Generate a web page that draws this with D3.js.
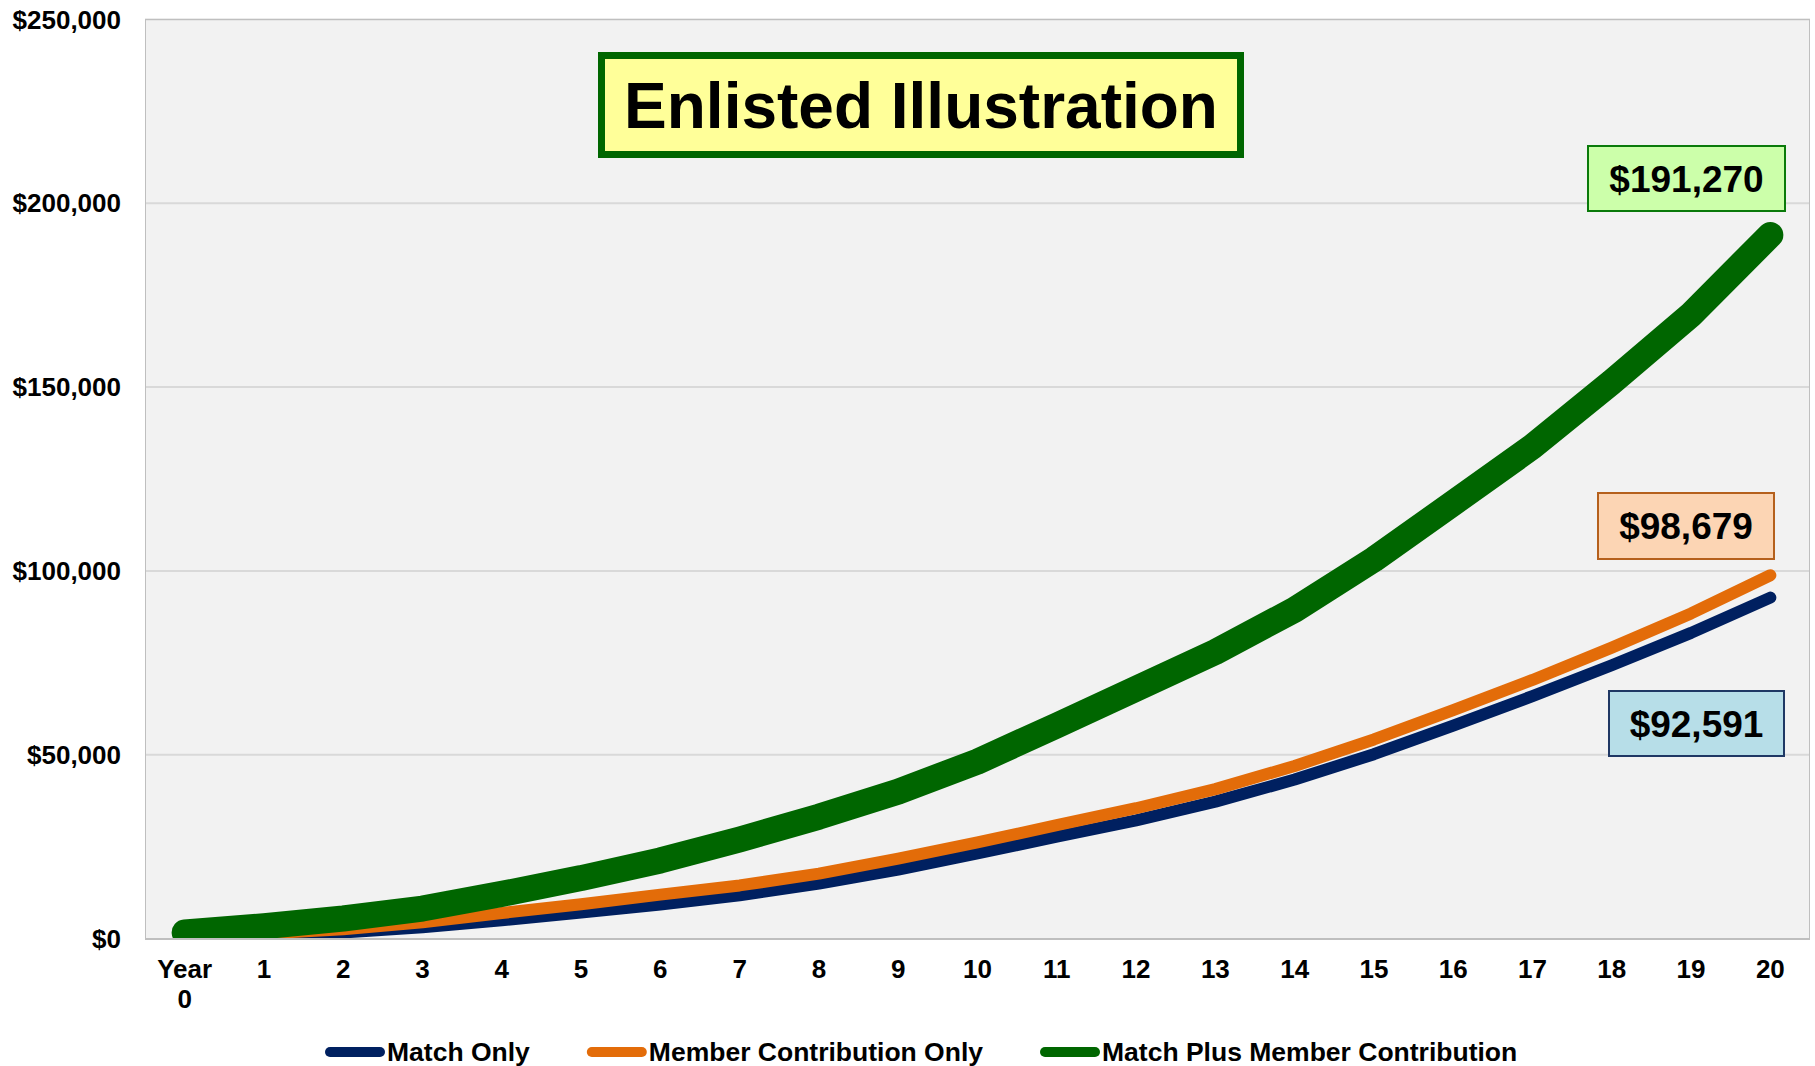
<!DOCTYPE html>
<html><head><meta charset="utf-8">
<script src="https://cdn.jsdelivr.net/npm/d3@7"></script>
<style>
body{margin:0;background:#fff;}
text{font-family:"Liberation Sans",Arial,Helvetica,sans-serif;font-weight:bold;fill:#000;}
</style>
</head><body>
<svg id="chart" width="1815" height="1066"></svg>
<script>
// ---------- data ----------
const years = [0,1,2,3,4,5,6,7,8,9,10,11,12,13,14,15,16,17,18,19,20];
const xTickLabels = [["Year","0"],["1"],["2"],["3"],["4"],["5"],["6"],["7"],["8"],["9"],["10"],
  ["11"],["12"],["13"],["14"],["15"],["16"],["17"],["18"],["19"],["20"]];
const matchOnly  = [0,400,1500,2900,4800,6900,9100,11600,14800,18600,23000,27600,32000,37100,43100,50000,57800,65800,74200,83000,92591];
const memberOnly = [600,1200,2400,4300,6800,9200,11800,14300,17500,21600,26000,30700,35300,40500,46800,54000,62000,70200,79000,88300,98679];
const matchPlus  = [1500,3200,5300,8000,12000,16300,21100,26800,33000,39800,48000,57800,67800,77800,89300,103000,118300,133700,151200,169600,191270];
const yTicks = [0,50000,100000,150000,200000,250000];
const seriesNames = ["Match Only","Member Contribution Only","Match Plus Member Contribution"];
const endLabels = ["$92,591","$98,679","$191,270"];
const titleText = "Enlisted Illustration";

// ---------- layout / style ----------
const plot = {left:145, right:1810, top:19, bottom:938};
const colors = ["#002060","#E36C09","#006600"];
const widths = [12,12,26];
const boxStyle = [
  {fill:"#B7DEE8", stroke:"#1F3864", cx:1696.5, cy:723.5, w:175, h:65},
  {fill:"#FCD5B4", stroke:"#B5601C", cx:1686, cy:526, w:176, h:66},
  {fill:"#CCFFAA", stroke:"#0A7A0A", cx:1686.5, cy:178.5, w:197, h:65}
];

const svg = d3.select("#chart");

const x = d3.scaleBand().domain(years).range([plot.left, plot.right]).padding(0);
const xc = d => x(d) + x.bandwidth()/2;
const y = d3.scaleLinear().domain([0,250000]).range([plot.bottom, plot.top]);

// plot background
svg.append("rect").attr("x",plot.left).attr("y",plot.top)
  .attr("width",plot.right-plot.left).attr("height",plot.bottom-plot.top)
  .attr("fill","#F2F2F2");

// gridlines
const yAxisGrid = d3.axisLeft(y).tickValues(yTicks.filter(v=>v>0)).tickSize(-(plot.right-plot.left)).tickFormat("");
const g = svg.append("g").attr("transform",`translate(${plot.left},0)`).call(yAxisGrid);
g.select(".domain").remove();
g.selectAll(".tick line").attr("stroke","#D9D9D9").attr("stroke-width",2);

// plot border
svg.append("rect").attr("x",plot.left+0.5).attr("y",plot.top+0.5)
  .attr("width",plot.right-plot.left-1).attr("height",plot.bottom-plot.top)
  .attr("fill","none").attr("stroke","#BFBFBF").attr("stroke-width",1);

// clip
svg.append("defs").append("clipPath").attr("id","clip").append("rect")
  .attr("x",plot.left).attr("y",plot.top).attr("width",plot.right-plot.left).attr("height",plot.bottom-plot.top);

const series = [matchOnly, memberOnly, matchPlus];
const line = d3.line().x((d,i)=>xc(years[i])).y(d=>y(d)).curve(d3.curveLinear);
const lg = svg.append("g").attr("clip-path","url(#clip)");
series.forEach((s,i)=>{
  lg.append("path").datum(s).attr("d",line).attr("fill","none")
    .attr("stroke",colors[i]).attr("stroke-width",widths[i])
    .attr("stroke-linecap","round").attr("stroke-linejoin","round");
});

// x axis line
svg.append("line").attr("x1",plot.left).attr("x2",plot.right).attr("y1",plot.bottom+1).attr("y2",plot.bottom+1)
  .attr("stroke","#BFBFBF").attr("stroke-width",2);

// y axis labels
const yAxis = d3.axisLeft(y).tickValues(yTicks).tickSize(0).tickPadding(0)
  .tickFormat(d=>"$"+d3.format(",")(d));
const ya = svg.append("g").attr("transform",`translate(121,0)`).call(yAxis);
ya.select(".domain").remove();
ya.selectAll("text").attr("font-size",26).attr("font-family",null).attr("fill","#000").attr("dy","0.35em");

// x axis labels
const xa = svg.append("g");
years.forEach((yr,i)=>{
  const t = xa.append("text").attr("x",xc(yr)).attr("y",978).attr("text-anchor","middle").attr("font-size",26);
  xTickLabels[i].forEach((s,j)=>{
    t.append("tspan").attr("x",xc(yr)).attr("dy", j===0?0:30).text(s);
  });
});

// legend
let lx = 325;
const ly = 1052;
seriesNames.forEach((n,i)=>{
  svg.append("line").attr("x1",lx+5).attr("x2",lx+55).attr("y1",ly).attr("y2",ly)
    .attr("stroke",colors[i]).attr("stroke-width",10).attr("stroke-linecap","round");
  const t = svg.append("text").attr("x",lx+62).attr("y",ly+9).attr("font-size",26.5).text(n);
  lx = lx + 62 + t.node().getComputedTextLength() + 57;
});

// end value boxes
series.forEach((s,i)=>{
  const b = boxStyle[i];
  svg.append("rect").attr("x",b.cx-b.w/2).attr("y",b.cy-b.h/2).attr("width",b.w).attr("height",b.h)
    .attr("fill",b.fill).attr("stroke",b.stroke).attr("stroke-width",2);
  svg.append("text").attr("x",b.cx).attr("y",b.cy).attr("dy","0.36em").attr("text-anchor","middle")
    .attr("font-size",37).text(endLabels[i]);
});

// title box
svg.append("rect").attr("x",601.5).attr("y",55.5).attr("width",639).attr("height",99)
  .attr("fill","#FFFF99").attr("stroke","#006600").attr("stroke-width",7);
svg.append("text").attr("x",921).attr("y",128).attr("text-anchor","middle").attr("font-size",64).text(titleText);
</script>
</body></html>
